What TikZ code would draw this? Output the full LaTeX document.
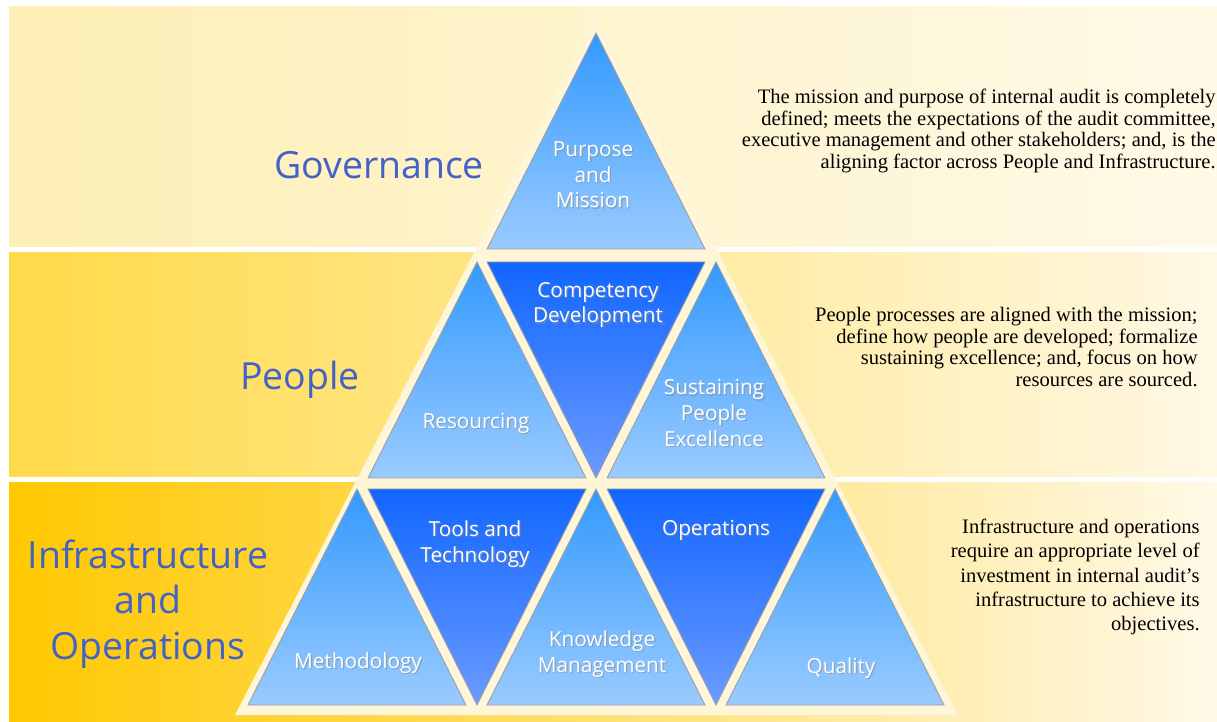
\documentclass[tikz,border=0pt]{standalone}
\usepackage{fontspec}
\setmainfont{Liberation Serif}
\newfontfamily\labelfont{Open Sans}
\usetikzlibrary{calc}

\definecolor{headblue}{HTML}{4262C6}
\definecolor{cream}{HTML}{FFF6DA}
\definecolor{upTop}{HTML}{3399FF}
\definecolor{upBot}{HTML}{9ACBFF}
\definecolor{downTop}{HTML}{1166FF}
\definecolor{downBot}{HTML}{6B9BFF}

% white triangle text with a soft drop shadow
\newcommand{\trilabel}[3]{%
  \node[lblshadow] at ($(#2)+(1.3,1.3)$) {#3};
  \node[lbl] (#1) at (#2) {#3};}

\begin{document}
\begin{tikzpicture}[x=0.02cm, y=-0.02cm,
    band/.style={shading=axis, shading angle=90},
    uptri/.style={top color=upTop, bottom color=upBot, draw=gray!75, line width=0.5pt},
    downtri/.style={top color=downTop, bottom color=downBot, draw=gray!75, line width=0.5pt},
    lbl/.style={align=center, text=white, inner sep=0pt,
                font=\labelfont\fontsize{11.8}{14.6}\selectfont},
    lblshadow/.style={lbl, text=black!45, opacity=0.6},
    layer/.style={align=center, text=headblue, inner sep=0pt,
                  font=\labelfont\fontsize{21.3}{26}\selectfont},
    note/.style={align=right, anchor=east, inner sep=0pt,
                 font=\fontsize{11.7}{12.4}\selectfont}
  ]
    \useasboundingbox (0,0) rectangle (1217,722);

    % the three layer bands
    \fill[band, left color={rgb,255:red,253;green,239;blue,181},
          middle color={rgb,255:red,254;green,244;blue,204},
          right color={rgb,255:red,255;green,249;blue,231}] (9,7) rectangle (1217,247);
    \fill[band, left color={rgb,255:red,255;green,218;blue,72},
          middle color={rgb,255:red,255;green,233;blue,150},
          right color={rgb,255:red,255;green,248;blue,228}] (9,253) rectangle (1217,477);
    \fill[band, left color={rgb,255:red,255;green,200;blue,0},
          middle color={rgb,255:red,255;green,226;blue,125},
          right color={rgb,255:red,255;green,249;blue,232}] (9,483) rectangle (1217,722);

    % backing pyramid
    \fill[cream] (596,17) -- (958,715) -- (235,715) -- cycle;

    % upward triangles: apex x / apex y
    \foreach \cx/\ty in {596/33, 477/262, 716/262, 357/489, 596/489, 835/489}
      \draw[uptri] (\cx,\ty) -- ++(109,216) -- ++(-218,0) -- cycle;
    % downward triangles: centre x / top y
    \foreach \cx/\ty in {596/262, 477/489, 716/489}
      \draw[downtri] (\cx-109,\ty) -- ++(218,0) -- ++(-109,216) -- cycle;

    \trilabel{purpose}{593,175}{\fontsize{11.8}{13}\selectfont Purpose\\and\\Mission}
    \trilabel{competency}{598,305}{Competency\\Development}
    \trilabel{resourcing}{476,423}{Resourcing}
    \trilabel{sustaining}{714,413}{Sustaining\\People\\Excellence}
    \trilabel{tools}{475,544}{Tools and\\Technology}
    \trilabel{operations}{716,530}{Operations}
    \trilabel{methodology}{358,663}{Methodology}
    \trilabel{knowledge}{602,654}{Knowledge\\Management}
    \trilabel{quality}{841,668}{Quality}

    % layer names
    \node[layer] (governance) at (379,165) {Governance};
    \node[layer] (people) at (300,380) {People};
    \node[layer] (infra) at (148,604) {Infrastructure\\and\\Operations};

    % descriptions
    \node[note] (govtext) at (1216,131) {The mission and purpose of internal audit is completely\\
      defined; meets the expectations of the audit committee,\\
      executive management and other stakeholders; and, is the\\
      aligning factor across People and Infrastructure.};
    \node[note] (peopletext) at (1198,347) {People processes are aligned with the mission;\\
      define how people are developed; formalize\\
      sustaining excellence; and, focus on how\\
      resources are sourced.};
    \node[note, font=\fontsize{11.7}{13.9}\selectfont] (infratext) at (1200,577)
      {Infrastructure and operations\\
      require an appropriate level of\\
      investment in internal audit's\\
      infrastructure to achieve its\\
      objectives.};
\end{tikzpicture}
\end{document}
